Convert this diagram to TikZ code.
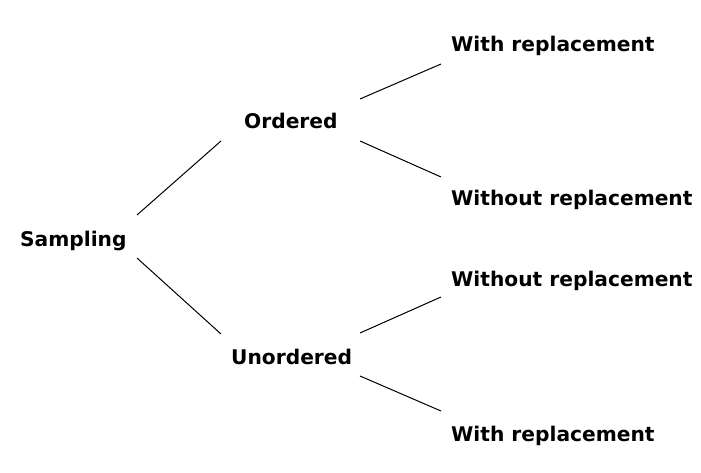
\documentclass[tikz,border=0pt]{standalone}
\usepackage{fontspec}
\setmainfont{DejaVu Sans}
\begin{document}
\begin{tikzpicture}[x=1pt,y=-1pt,
  lbl/.style={anchor=base west,inner sep=0pt,font=\fontsize{20.2}{24}\selectfont\bfseries},
  conn/.style={draw=black,line width=1pt}]
\useasboundingbox (0,0) rectangle (701,473);
\node[lbl] (samp) at (20,246) {Sampling};
\node[lbl] (ord) at (244,129) {Ordered};
\node[lbl] (unord) at (231,364) {Unordered};
\node[lbl] (w1) at (451,52) {With replacement};
\node[lbl] (wo1) at (451,205) {Without replacement};
\node[lbl] (wo2) at (451,286) {Without replacement};
\node[lbl] (w2) at (451,441) {With replacement};
\coordinate (sa) at (137,215);
\coordinate (sb) at (137,258);
\coordinate (oa) at (221,141);
\coordinate (ob) at (360,99);
\coordinate (oc) at (360,141);
\coordinate (ua) at (221,334);
\coordinate (ub) at (360,333);
\coordinate (uc) at (360,376);
\coordinate (w1a) at (441,64);
\coordinate (wo1a) at (441,177);
\coordinate (wo2a) at (441,297);
\coordinate (w2a) at (441,411);
\draw[conn] (sa) -- (oa);
\draw[conn] (sb) -- (ua);
\draw[conn] (ob) -- (w1a);
\draw[conn] (oc) -- (wo1a);
\draw[conn] (ub) -- (wo2a);
\draw[conn] (uc) -- (w2a);
\end{tikzpicture}
\end{document}
